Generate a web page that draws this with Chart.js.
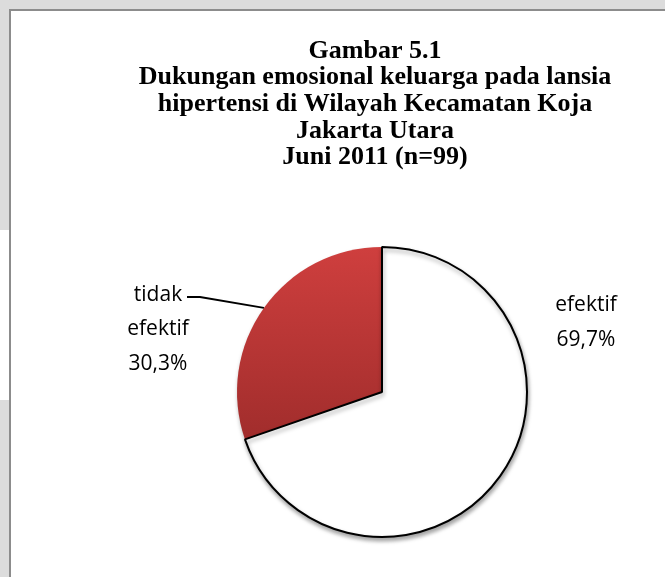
<!DOCTYPE html>
<html>
<head>
<meta charset="utf-8">
<script src="https://cdn.jsdelivr.net/npm/chart.js@4.4.1/dist/chart.umd.min.js"></script>
<style>
  html, body { margin: 0; padding: 0; }
  body { width: 665px; height: 577px; background: #dcdcdc; position: relative; overflow: hidden; }
  #gap1 { position: absolute; left: 0; top: 230px; width: 10px; height: 170px; background: #ffffff; }
  #frame { position: absolute; left: 9px; top: 9px; width: 700px; height: 620px; background: #ffffff; border: 2px solid #8c8c8c; }
  #wrap { position: absolute; left: 0; top: 0; width: 665px; height: 577px; }
</style>
</head>
<body>
<div id="gap1"></div>
<div id="frame"></div>
<div id="wrap"><canvas id="c" width="665" height="577"></canvas></div>
<script>
// ---- data ----
const titleLines = [
  'Gambar 5.1',
  'Dukungan emosional keluarga pada lansia',
  'hipertensi di Wilayah Kecamatan Koja',
  'Jakarta Utara',
  'Juni 2011 (n=99)'
];
const categories = ['tidak efektif', 'efektif'];
const values = [30.3, 69.7];
const valueLabels = ['30,3%', '69,7%'];

const total = values.reduce((a, b) => a + b, 0);
const startRotation = -values[0] / total * 360;

const sliceFill = (ctx) => {
  if (ctx.dataIndex !== 0) return '#ffffff';
  const area = ctx.chart.chartArea;
  if (!area) return '#b83535';
  const g = ctx.chart.ctx.createLinearGradient(0, area.top, 0, area.top + area.height * 0.66);
  g.addColorStop(0, '#cf3f3e');
  g.addColorStop(1, '#a12d2c');
  return g;
};

const shadowPlugin = {
  id: 'shadow',
  beforeDatasetsDraw(chart) {
    const c = chart.ctx;
    c.save();
    c.shadowColor = 'rgba(0,0,0,0.35)';
    c.shadowBlur = 4;
    c.shadowOffsetX = 1;
    c.shadowOffsetY = 3;
  },
  afterDatasetsDraw(chart) {
    chart.ctx.restore();
  }
};

const textPlugin = {
  id: 'texts',
  afterDraw(chart) {
    const c = chart.ctx;
    c.save();
    // title
    c.fillStyle = '#000000';
    c.textAlign = 'center';
    c.textBaseline = 'middle';
    c.font = 'bold 26px "Liberation Serif", "Times New Roman", serif';
    titleLines.forEach((t, i) => c.fillText(t, 375, 51 + i * 26.6));

    // labels
    c.font = '21px "Open Sans", sans-serif';
    const meta = chart.getDatasetMeta(0);
    // tidak efektif
    const a0 = meta.data[0];
    const mid0 = (a0.startAngle + a0.endAngle) / 2;
    const px = a0.x + Math.cos(mid0) * a0.outerRadius;
    const py = a0.y + Math.sin(mid0) * a0.outerRadius;
    const words0 = categories[0].split(' ');
    const lines0 = [words0[0], words0.slice(1).join(' '), valueLabels[0]];
    lines0.forEach((t, i) => c.fillText(t, 158, 295 + i * 34.5));
    c.strokeStyle = '#000000';
    c.lineWidth = 2;
    c.beginPath();
    c.moveTo(187, 297);
    c.lineTo(200, 297);
    c.lineTo(px, py);
    c.stroke();
    // efektif
    const lines1 = [categories[1], valueLabels[1]];
    lines1.forEach((t, i) => c.fillText(t, 586, 305 + i * 35));
    c.restore();
  }
};

new Chart(document.getElementById('c'), {
  type: 'pie',
  data: {
    labels: categories,
    datasets: [{
      data: values,
      backgroundColor: sliceFill,
      borderColor: ['#a12d2c', '#000000'],
      borderWidth: [0, 2],
      borderAlign: 'center'
    }]
  },
  options: {
    responsive: false,
    animation: false,
    rotation: startRotation,
    layout: { padding: { left: 236, right: 137, top: 246, bottom: 39 } },
    plugins: {
      legend: { display: false },
      title: { display: false },
      tooltip: { enabled: false }
    }
  },
  plugins: [shadowPlugin, textPlugin]
});
</script>
</body>
</html>
